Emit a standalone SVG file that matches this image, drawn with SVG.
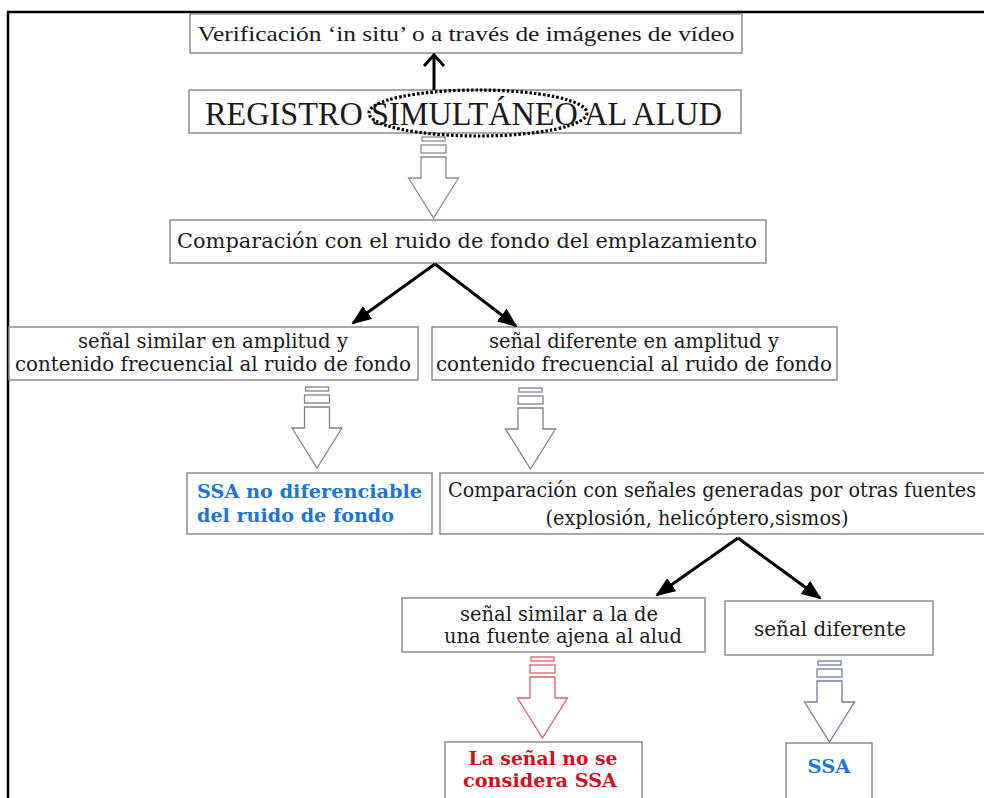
<svg xmlns="http://www.w3.org/2000/svg" xmlns:xlink="http://www.w3.org/1999/xlink" width="984" height="798" viewBox="0 0 984 798">
<style>
.box{fill:#fff;stroke:#8c8c8c;stroke-width:1.5}
.t1{font-family:"Liberation Serif","Times New Roman",serif;fill:#1a1a1a}
.t{font-family:"DejaVu Serif","Liberation Serif",serif;font-size:20px;fill:#1a1a1a}
.b{font-family:"DejaVu Serif","Liberation Serif",serif;font-size:19px;font-weight:bold}
.blue{fill:#2173d4}
.red{fill:#d0101e}
.conn{stroke:#000;stroke-width:3;fill:none}
.ba{stroke-width:1.3}
</style>
<defs>
<marker id="tri" markerUnits="userSpaceOnUse" markerWidth="20" markerHeight="16" refX="18" refY="8" orient="auto">
<path d="M0,0 L20,8 L0,16 Z" fill="#000"/>
</marker>
<marker id="chev" markerUnits="userSpaceOnUse" markerWidth="24" markerHeight="24" refX="12" refY="12" orient="auto">
<path d="M1,2 L12,12 L1,22" fill="none" stroke="#000" stroke-width="3"/>
</marker>
<g id="blk">
<rect x="-11.5" y="0" width="23" height="4" fill="#fff"/>
<rect x="-12.5" y="8" width="25" height="8" fill="#fff"/>
<polygon points="-12.5,20 12.5,20 12.5,41 25,41 0,81 -25,41 -12.5,41" fill="#fff"/>
</g>
</defs>

<g id="frame" fill="none" stroke="#000" stroke-width="2.5">
<path d="M8,798 V12 H984"/>
</g>

<g id="n1">
<rect class="box" x="190" y="14" width="552" height="39"/>
<text class="t1" x="466" y="41" font-size="21" text-anchor="middle" textLength="537" lengthAdjust="spacingAndGlyphs">Verificación ‘in situ’ o a través de imágenes de vídeo</text>
</g>

<g id="n2">
<rect class="box" x="189" y="90" width="552" height="43"/>
<text class="t1" x="463.5" y="125" font-size="33" text-anchor="middle" textLength="517" lengthAdjust="spacingAndGlyphs">REGISTRO SIMULTÁNEO AL ALUD</text>
<ellipse cx="478" cy="113" rx="109" ry="23" fill="none" stroke="#000" stroke-width="3.2" stroke-dasharray="2.5 2"/>
</g>

<g id="n3">
<rect class="box" x="170" y="220" width="596" height="43"/>
<text class="t" x="467" y="248" text-anchor="middle" textLength="580" lengthAdjust="spacingAndGlyphs">Comparación con el ruido de fondo del emplazamiento</text>
</g>

<g id="n4">
<rect class="box" x="9" y="327" width="409" height="53"/>
<text class="t" x="213" y="348" text-anchor="middle" textLength="270" lengthAdjust="spacingAndGlyphs">señal similar en amplitud y</text>
<text class="t" x="213" y="371" text-anchor="middle" textLength="396" lengthAdjust="spacingAndGlyphs">contenido frecuencial al ruido de fondo</text>
</g>

<g id="n5">
<rect class="box" x="432" y="327" width="405" height="53"/>
<text class="t" x="634" y="348" text-anchor="middle" textLength="290" lengthAdjust="spacingAndGlyphs">señal diferente en amplitud y</text>
<text class="t" x="634" y="371" text-anchor="middle" textLength="396" lengthAdjust="spacingAndGlyphs">contenido frecuencial al ruido de fondo</text>
</g>

<g id="n6">
<rect class="box" x="187" y="473" width="245" height="61"/>
<text class="b blue" x="197" y="498" textLength="225" lengthAdjust="spacingAndGlyphs">SSA no diferenciable</text>
<text class="b blue" x="197" y="522" textLength="197" lengthAdjust="spacingAndGlyphs">del ruido de fondo</text>
</g>

<g id="n7">
<rect class="box" x="440" y="473" width="560" height="61"/>
<text class="t" x="448" y="497" textLength="528" lengthAdjust="spacingAndGlyphs">Comparación con señales generadas por otras fuentes</text>
<text class="t" x="697" y="525" text-anchor="middle" textLength="303" lengthAdjust="spacingAndGlyphs">(explosión, helicóptero,sismos)</text>
</g>

<g id="n8">
<rect class="box" x="402" y="598" width="303" height="54"/>
<text class="t" x="559" y="621" text-anchor="middle" textLength="198" lengthAdjust="spacingAndGlyphs">señal similar a la de</text>
<text class="t" x="563" y="643" text-anchor="middle" textLength="238" lengthAdjust="spacingAndGlyphs">una fuente ajena al alud</text>
</g>

<g id="n9">
<rect class="box" x="725" y="601" width="208" height="54"/>
<text class="t" x="830" y="636" text-anchor="middle" textLength="152" lengthAdjust="spacingAndGlyphs">señal diferente</text>
</g>

<g id="n10">
<rect class="box" x="445" y="742" width="197" height="60"/>
<text class="b red" x="543" y="765" text-anchor="middle" textLength="149" lengthAdjust="spacingAndGlyphs">La señal no se</text>
<text class="b red" x="540" y="787" text-anchor="middle" textLength="154" lengthAdjust="spacingAndGlyphs">considera SSA</text>
</g>

<g id="n11">
<rect class="box" x="786" y="743" width="86" height="60"/>
<text class="b blue" x="829" y="773" text-anchor="middle" textLength="43" lengthAdjust="spacingAndGlyphs">SSA</text>
</g>

<g id="connectors">
<line class="conn" x1="434" y1="90" x2="434" y2="55" marker-end="url(#chev)"/>
<line class="conn" x1="435" y1="264" x2="353" y2="323" marker-end="url(#tri)"/>
<line class="conn" x1="435" y1="264" x2="516" y2="326" marker-end="url(#tri)"/>
<line class="conn" x1="738" y1="538" x2="657" y2="595" marker-end="url(#tri)"/>
<line class="conn" x1="738" y1="538" x2="820" y2="598" marker-end="url(#tri)"/>
<use xlink:href="#blk" x="433.5" y="137" stroke="#8a8a8a" class="ba"/>
<use xlink:href="#blk" x="317" y="387" stroke="#7d8290" class="ba"/>
<use xlink:href="#blk" x="530.5" y="388" stroke="#7d8290" class="ba"/>
<use xlink:href="#blk" x="542.5" y="657" stroke="#d9606c" class="ba"/>
<use xlink:href="#blk" x="829.5" y="661" stroke="#6f7f9a" class="ba"/>
</g>
</svg>
